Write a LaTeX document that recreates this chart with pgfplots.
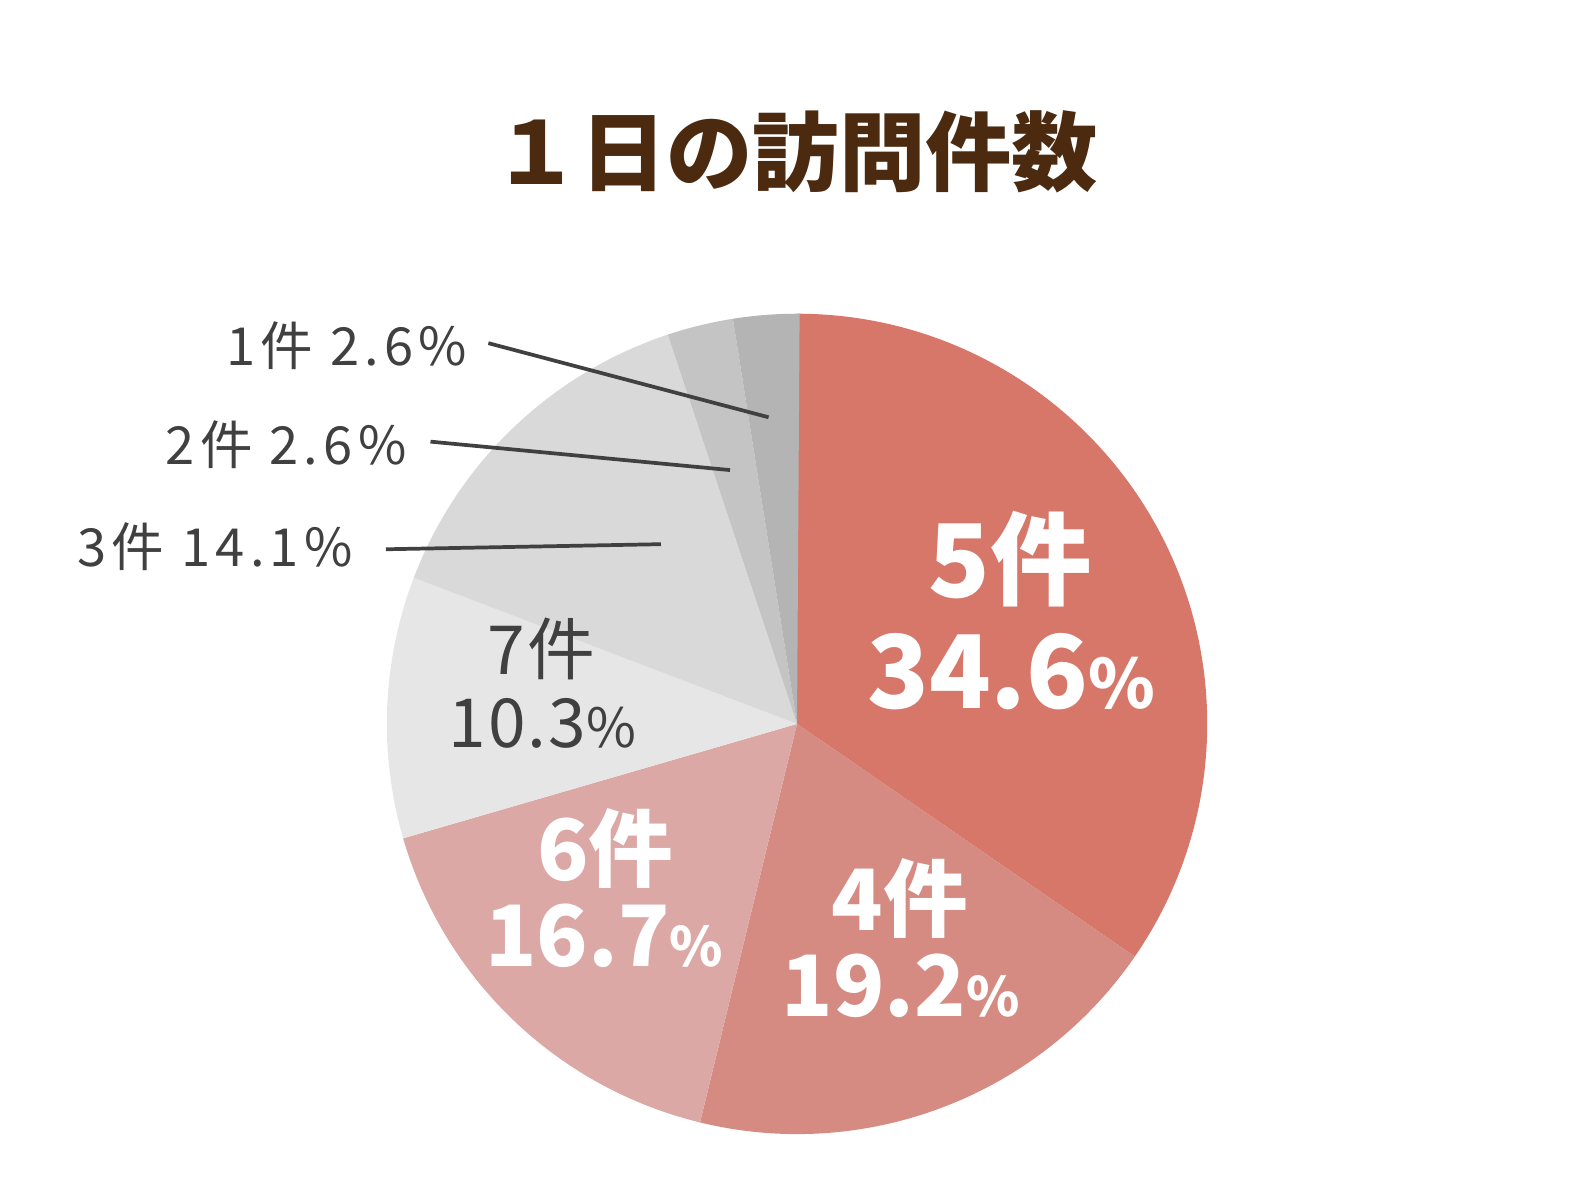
\documentclass[border=0pt]{standalone}
\usepackage{pgfplots}
\pgfplotsset{compat=1.18}
\usepackage{pgfplotstable}
\usepackage{etoolbox}
\usepackage{fontspec}
\setmainfont{Noto Sans CJK JP}

\definecolor{c5}{HTML}{D77769}
\definecolor{c4}{HTML}{D58A82}
\definecolor{c6}{HTML}{DCA8A6}
\definecolor{c7}{HTML}{E6E6E6}
\definecolor{c3}{HTML}{D9D9D9}
\definecolor{c2}{HTML}{C4C4C4}
\definecolor{c1}{HTML}{B4B4B4}
\definecolor{titlebrown}{HTML}{4B2A0F}
\definecolor{labelgray}{HTML}{404040}

% share of visits per day, clockwise from the top
\pgfplotstableread{
count value color
5 34.6 c5
4 19.2 c4
6 16.7 c6
7 10.3 c7
3 14.1 c3
2 2.6 c2
1 2.6 c1
}\piedata

\newcommand\pct[1]{{\fontsize{#1}{#1}\selectfont\%}}

\begin{document}
\begin{tikzpicture}
% build the slices from the table (1 unit = 0.3pt, radius 404 units)
\pgfplotstablegetrowsof{\piedata}
\pgfmathtruncatemacro\nrows{\pgfplotsretval-1}
\gdef\pieslices{}
\xdef\acc{90}
\foreach \i in {0,...,\nrows}{
  \pgfplotstablegetelem{\i}{value}\of\piedata \let\v\pgfplotsretval
  \pgfplotstablegetelem{\i}{color}\of\piedata \let\c\pgfplotsretval
  \pgfmathsetmacro\b{\acc-3.6*\v}
  \xappto\pieslices{\noexpand\fill[\c] (axis cs:785,481) -- (axis cs:{785+404*cos(\acc)},{481+404*sin(\acc)}) arc[start angle=\acc, end angle=\b, radius=121.2pt] -- cycle;}
  \xdef\acc{\b}
}
\begin{axis}[
    x=0.3pt, y=0.3pt,
    xmin=0, xmax=1568, ymin=18, ymax=1194,
    hide axis,
    clip=false,
    scale only axis,
]
\coordinate (LL) at (rel axis cs:0,0);
\coordinate (UR) at (rel axis cs:1,1);
\pieslices

\node[titlebrown, font=\fontsize{25.5}{26}\selectfont\bfseries, anchor=center]
  at (axis cs:784,1044) {１日の訪問件数};

% labels inside the pie
\node[white, font=\fontsize{30}{30}\selectfont\bfseries] at (axis cs:995,643) {5件};
\node[white, font=\fontsize{30}{30}\selectfont\bfseries] at (axis cs:996,532) {34.6\pct{20}};
\node[white, font=\fontsize{25}{25}\selectfont\bfseries] at (axis cs:886,309) {4件};
\node[white, font=\fontsize{25}{25}\selectfont\bfseries] at (axis cs:887,223) {19.2\pct{16}};
\node[white, font=\fontsize{25}{25}\selectfont\bfseries] at (axis cs:596,358) {6件};
\node[white, font=\fontsize{25}{25}\selectfont\bfseries] at (axis cs:595,272) {16.7\pct{16}};
\node[labelgray, font=\fontsize{20}{20}\selectfont\addfontfeature{LetterSpace=3}] at (axis cs:533,555) {7件};
\node[labelgray, font=\fontsize{20}{20}\selectfont\addfontfeature{LetterSpace=3}] at (axis cs:534,482) {10.3\pct{16}};

% labels outside with leader lines
\node[labelgray, font=\fontsize{15.5}{16}\selectfont\addfontfeature{LetterSpace=10}, anchor=east] at (axis cs:472,854) {1件 2.6\%};
\node[labelgray, font=\fontsize{15.5}{16}\selectfont\addfontfeature{LetterSpace=10}, anchor=east] at (axis cs:412,756) {2件 2.6\%};
\node[labelgray, font=\fontsize{15.5}{16}\selectfont\addfontfeature{LetterSpace=10}, anchor=east] at (axis cs:359,656) {3件 14.1\%};
\draw[labelgray, line width=1.1pt] (axis cs:481,856) -- (axis cs:757,783);
\draw[labelgray, line width=1.1pt] (axis cs:424,759) -- (axis cs:719,731);
\draw[labelgray, line width=1.1pt] (axis cs:380,653) -- (axis cs:651,658);
\end{axis}
\pgfresetboundingbox
\useasboundingbox (LL) rectangle (UR);
\end{tikzpicture}
\end{document}
